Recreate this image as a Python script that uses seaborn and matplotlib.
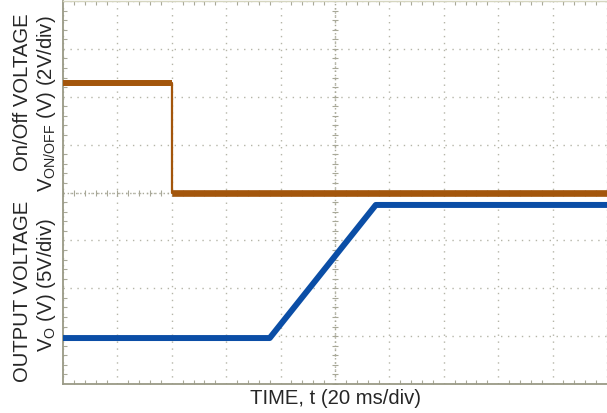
import numpy as np
import pandas as pd
import matplotlib
matplotlib.use("Agg")
import matplotlib.pyplot as plt
import seaborn as sns

# ---- data (time in ms, voltages in V) ----
t_onoff = [0, 40, 40, 200]
v_onoff = [4.56, 4.56, 0.0, 0.0]
t_out = [0, 76, 115, 200]
v_out = [0.0, 0.0, 13.9, 13.9]

onoff_scale = 2.0   # V/div
out_scale = 5.0     # V/div
onoff_ground = 4.0  # div
out_ground = 0.96   # div

xlabel = "TIME, t (20 ms/div)"
ylab_top1 = "On/Off VOLTAGE"
ylab_top2 = r"V$_{\mathregular{ON/OFF}}$ (V) (2V/div)"
ylab_bot1 = "OUTPUT VOLTAGE"
ylab_bot2 = r"V$_{\mathregular{O}}$ (V) (5V/div)"

sns.set_theme(style="white")
plt.rcParams["font.family"] = ["Liberation Sans", "DejaVu Sans"]
plt.rcParams["mathtext.fontset"] = "custom"
plt.rcParams["mathtext.rm"] = "Liberation Sans"
plt.rcParams["mathtext.it"] = "Liberation Sans"

W, H = 607, 413
fig = plt.figure(figsize=(W / 100, H / 100), dpi=100)
ax = fig.add_axes([63 / W, 1 - 384 / H, 544 / W, 383 / H])

brown = "#A3560C"
blue = "#0B4EA6"
gridc = "#b5b5a8"

df_on = pd.DataFrame({"t": t_onoff,
                      "d": [onoff_ground + v / onoff_scale for v in v_onoff]})
df_out = pd.DataFrame({"t": t_out,
                       "d": [out_ground + v / out_scale for v in v_out]})

# grid
for k in range(11):
    x = k * 20
    ax.axvline(x, color=gridc, lw=1.0, ls=(0, (1, 4)), zorder=0)
for k in range(9):
    ax.axhline(k, color=gridc, lw=1.0, ls=(0, (1, 4)), zorder=0)
ax.axvline(100, color="#a8a898", lw=1.0, ls=(0, (1, 2)), zorder=0)
ax.axhline(4, color="#a8a898", lw=1.0, ls=(0, (1, 2)), zorder=0)
mx = np.arange(0, 200.01, 4)
my = np.arange(0, 8.01, 0.2)
ax.plot(mx, np.full_like(mx, 4.0), ls="none", marker="|", ms=4, mew=0.8,
        color="#a8a898", zorder=0)
ax.plot(np.full_like(my, 100.0), my, ls="none", marker="_", ms=4, mew=0.8,
        color="#a8a898", zorder=0)

# traces
sns.lineplot(data=df_on, x="t", y="d", ax=ax, color=brown, lw=1.6,
             sort=False, estimator=None, zorder=3)
sns.lineplot(data=df_on.iloc[0:2], x="t", y="d", ax=ax, color=brown, lw=4.3,
             sort=False, estimator=None, zorder=3, solid_capstyle="butt")
sns.lineplot(data=df_on.iloc[2:4], x="t", y="d", ax=ax, color=brown, lw=4.8,
             sort=False, estimator=None, zorder=3, solid_capstyle="butt")
sns.lineplot(data=df_out, x="t", y="d", ax=ax, color=blue, lw=4.3,
             sort=False, estimator=None, zorder=4)

ax.set_xlim(0, 200)
ax.set_ylim(0, 8)
ax.set_xticks(np.arange(0, 201, 20))
ax.set_yticks(np.arange(0, 9, 1))
ax.set_xticks(np.arange(0, 201, 4), minor=True)
ax.set_yticks(np.arange(0, 8.01, 0.2), minor=True)
ax.set_xticklabels([])
ax.set_yticklabels([])
ax.tick_params(which="major", length=0)
ax.tick_params(which="minor", direction="in", length=3, width=0.8,
               color="#a8a898", top=True, bottom=True, left=True, right=False)
ax.set_xlabel("")
ax.set_ylabel("")

for s in ["left", "bottom"]:
    ax.spines[s].set_color("#9a9a86")
    ax.spines[s].set_linewidth(1.3)
ax.spines["top"].set_color("#d6d6c0")
ax.spines["top"].set_linewidth(1.0)
ax.spines["right"].set_visible(False)

fs = 14.6
fig.text(336 / W, 1 - 398 / H, xlabel, ha="center", va="center", fontsize=fs)
fig.text(23 / W, 1 - 92 / H, ylab_top1, ha="center", va="center",
         rotation=90, fontsize=fs)
fig.text(47 / W, 1 - 104 / H, ylab_top2, ha="center", va="center",
         rotation=90, fontsize=fs)
fig.text(23 / W, 1 - 291 / H, ylab_bot1, ha="center", va="center",
         rotation=90, fontsize=fs)
fig.text(47 / W, 1 - 285 / H, ylab_bot2, ha="center", va="center",
         rotation=90, fontsize=fs)

fig.savefig("out.png", dpi=100)
